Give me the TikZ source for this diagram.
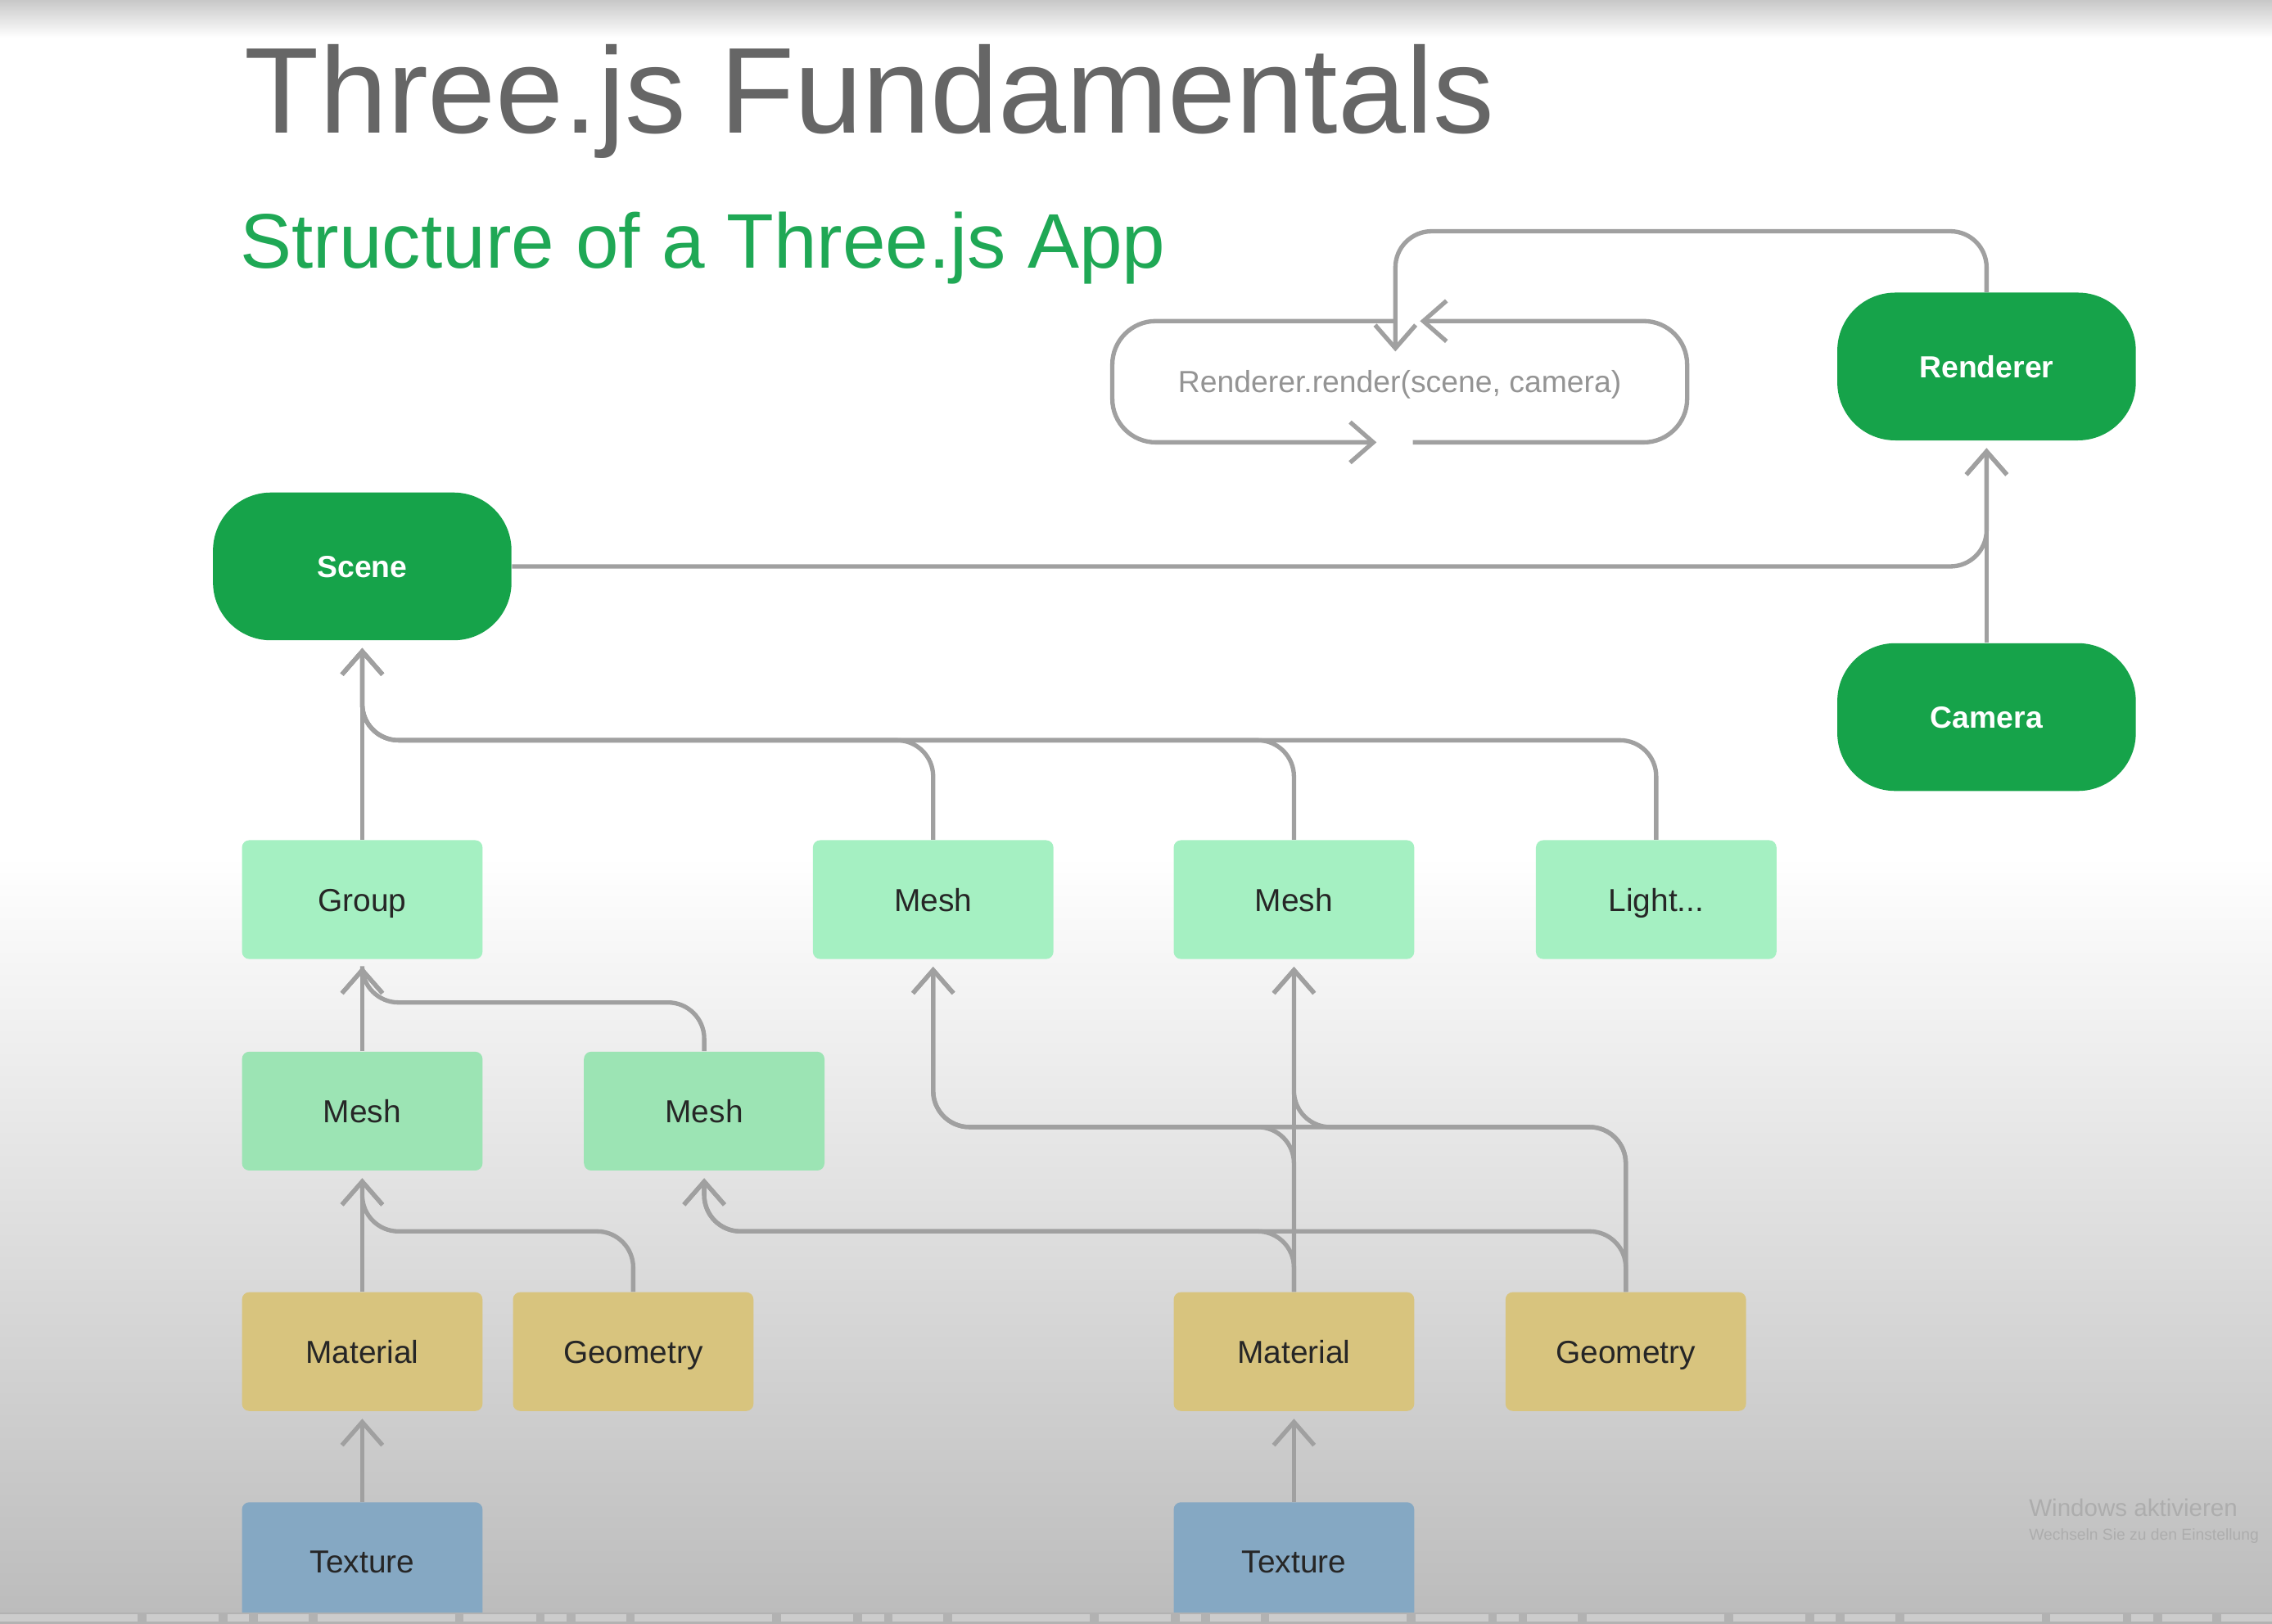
\documentclass[tikz,border=0pt]{standalone}
\usepackage{fontspec}
\setmainfont{Liberation Sans}
\usetikzlibrary{arrows.meta}

\definecolor{darkgreen}{HTML}{16A34A}
\definecolor{lightgreen}{HTML}{A5F0C2}
\definecolor{meshgreen}{HTML}{9CE4B4}
\definecolor{materialyellow}{HTML}{D8C47E}
\definecolor{textureblue}{HTML}{85A8C3}
\definecolor{linegray}{HTML}{A0A0A0}
\definecolor{titlegray}{HTML}{666666}
\definecolor{subgreen}{HTML}{1FA855}
\definecolor{bgtop}{HTML}{C8C8C8}
\definecolor{bgbottom}{HTML}{BBBBBB}

\begin{document}
\begin{tikzpicture}[
        >={Straight Barb[length=3.2mm,width=5.6mm]},
        link/.style={->, draw=linegray, line width=0.06cm, shorten >=0.1cm, rounded corners=0.5cm},
        bignode/.style={fill=darkgreen, text=white, rounded corners=0.8cm, minimum width=4.12cm, minimum height=2.04cm, text height=8.6pt, text depth=0pt, font=\fontsize{12}{14}\selectfont\bfseries},
        box/.style={rounded corners=0.1cm, minimum width=3.32cm, minimum height=1.64cm, text height=9pt, text depth=0pt, text=black!85, font=\fontsize{12.5}{15}\selectfont},
        objbox/.style={box, fill=lightgreen},
        meshbox/.style={box, fill=meshgreen},
        matbox/.style={box, fill=materialyellow},
        texbox/.style={box, fill=textureblue}
    ]
        \useasboundingbox (0,0) rectangle (31.36,22.42);
        % background
        \fill[white] (0,10.6) rectangle (31.36,21.9);
        \fill[top color=bgtop, bottom color=white] (0,21.9) rectangle (31.36,22.42);
        \fill[top color=white, bottom color=bgbottom] (0,0) rectangle (31.36,10.6);

        % titles
        \node[anchor=base west, inner sep=0, text=titlegray, font=\fontsize{48}{56}\selectfont] (title) at (3.37,20.58) {Three.js Fundamentals};
        \node[anchor=base west, inner sep=0, text=subgreen, font=\fontsize{30.4}{36}\selectfont] (subtitle) at (3.31,18.72) {Structure of a Three.js App};

        % top row
        \node[bignode] (scene) at (5.00,14.60) {Scene};
        \node[bignode] (renderer) at (27.42,17.36) {Renderer};
        \node[bignode] (camera) at (27.42,12.52) {Camera};
        \node[minimum width=7.92cm, minimum height=1.66cm, text height=8.6pt, text depth=0pt, text=black!42, font=\fontsize{12}{14}\selectfont] (call) at (19.32,17.15) {Renderer.render(scene, camera)};
        \coordinate (callin) at ([xshift=-0.06cm,yshift=-0.42cm]call.north);

        % objects
        \node[objbox] (group) at (5.00,10.00) {Group};
        \node[objbox] (mesh1) at (12.88,10.00) {Mesh};
        \node[objbox] (mesh2) at (17.86,10.00) {Mesh};
        \node[objbox] (light) at (22.86,10.00) {Light...};
        \node[meshbox] (mesha) at (5.00,7.08) {Mesh};
        \node[meshbox] (meshb) at (9.72,7.08) {Mesh};
        \node[matbox] (mat1) at (5.00,3.76) {Material};
        \node[matbox] (geo1) at (8.74,3.76) {Geometry};
        \node[matbox] (mat2) at (17.86,3.76) {Material};
        \node[matbox] (geo2) at (22.44,3.76) {Geometry};
        \node[texbox] (tex1) at (5.00,0.86) {Texture};
        \node[texbox] (tex2) at (17.86,0.86) {Texture};

        % render loop
        \draw[link, rounded corners=0.6cm] ([xshift=0.18cm]call.south) -- (call.south east) -- (call.north east) -- ([xshift=0.18cm]call.north);
        \draw[link, rounded corners=0.6cm] ([xshift=-0.06cm]call.north) -- (call.north west) -- (call.south west) -- ([xshift=-0.22cm]call.south);
        \draw[link, shorten >=0cm] (renderer.north) -- ++(0,0.84) -| (callin);

        % scene and camera to renderer
        \draw[link] (scene.east) -| (renderer.south);
        \draw[link] (camera.north) -- (renderer.south);

        % children of scene
        \draw[link] (group.north) -- (scene.south);
        \draw[link] (mesh1.north) |- (5.00,12.20) -- (scene.south);
        \draw[link] (mesh2.north) |- (5.00,12.20) -- (scene.south);
        \draw[link] (light.north) |- (5.00,12.20) -- (scene.south);

        % children of group
        \draw[link] (mesha.north) -- (group.south);
        \draw[link] (meshb.north) |- (5.00,8.58) -- (group.south);

        % left mesh
        \draw[link] (mat1.north) -- (mesha.south);
        \draw[link] (geo1.north) |- (5.00,5.42) -- (mesha.south);
        \draw[link] (tex1.north) -- (mat1.south);

        % shared material and geometry
        \draw[link] (mat2.north) -- (mesh2.south);
        \draw[link] (geo2.north) |- (17.86,6.86) -- (mesh2.south);
        \draw[link] (mat2.north) |- (12.88,6.86) -- (mesh1.south);
        \draw[link] (geo2.north) |- (12.88,6.86) -- (mesh1.south);
        \draw[link] (mat2.north) |- (9.72,5.42) -- (meshb.south);
        \draw[link] (geo2.north) |- (9.72,5.42) -- (meshb.south);
        \draw[link] (tex2.north) -- (mat2.south);

        % screen overlay
        \fill[black!30] (0,0) rectangle (31.36,0.16);
        \draw[line width=0.1cm, black!20, dash pattern=on 1.9cm off 0.12cm on 1cm off 0.12cm on 0.3cm off 0.12cm on 0.7cm off 0.12cm] (0,0.08) -- (31.36,0.08);
        \node[anchor=base west, inner sep=0, text=black!32, font=\fontsize{9.5}{11}\selectfont] (wmark) at (28.00,1.48) {Windows aktivieren};
        \node[anchor=base west, inner sep=0, text=black!32, font=\fontsize{6.2}{8}\selectfont] (wmarksub) at (28.00,1.16) {Wechseln Sie zu den Einstellung};
\end{tikzpicture}
\end{document}
